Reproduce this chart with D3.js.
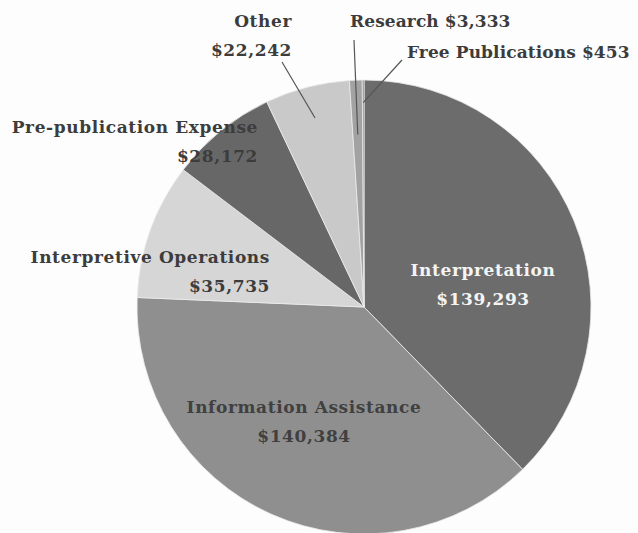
<!DOCTYPE html>
<html>
<head>
<meta charset="utf-8">
<script src="https://cdn.jsdelivr.net/npm/d3@7"></script>
<style>
  html, body { margin: 0; padding: 0; background: #fdfdfd; }
  svg { display: block; }
  text { font-family: "DejaVu Serif", serif; font-size: 17px; letter-spacing: 0.6px; }
  text.inline { letter-spacing: 0.1px; }
</style>
</head>
<body>
<svg id="chart" width="638" height="533"></svg>
<script>
// budget categories, clockwise from 12 o'clock
var categories = ["Interpretation", "Information Assistance", "Interpretive Operations",
                  "Pre-publication Expense", "Other", "Research", "Free Publications"];
var amounts = [139293, 140384, 35735, 28172, 22242, 3333, 453];
var shades = ["#6c6c6c", "#8f8f8f", "#d6d6d6", "#676767", "#c9c9c9", "#a2a2a2", "#7a7a7a"];

var fmt = d3.format("$,");

var svg = d3.select("#chart");
var cx = 364, cy = 307, R = 227;

var g = svg.append("g").attr("transform", "translate(" + cx + "," + cy + ")");

var pie = d3.pie().sort(null).value(function(d){ return d.value; });
var arc = d3.arc().innerRadius(0).outerRadius(R);

var data = categories.map(function(c, i){ return { name: c, value: amounts[i], fill: shades[i] }; });
var arcs = pie(data);

g.selectAll("path.slice")
  .data(arcs)
  .enter().append("path")
  .attr("class", "slice")
  .attr("d", arc)
  .attr("fill", function(d){ return d.data.fill; })
  .attr("stroke", "#ececec")
  .attr("stroke-width", 0.8);

// label layout (absolute page coords), two lines unless inline
var labels = {
  "Interpretation":          { x: 483, y: 276, anchor: "middle", color: "#f4f4f4" },
  "Information Assistance":  { x: 304, y: 413, anchor: "middle", color: "#404040" },
  "Interpretive Operations": { x: 270, y: 263, anchor: "end",    color: "#3c3c3c" },
  "Pre-publication Expense": { x: 258, y: 133, anchor: "end",    color: "#3c3c3c" },
  "Other":                   { x: 292, y: 27,  anchor: "end",    color: "#3c3c3c" },
  "Research":                { x: 350, y: 27,  anchor: "start",  color: "#3c3c3c", inline: true },
  "Free Publications":       { x: 407, y: 58,  anchor: "start",  color: "#3c3c3c", inline: true }
};

// leader lines: outer end in page coords, inner end at fraction of radius on slice mid-angle
var leaders = {
  "Other":             { x: 282, y: 62, r: 0.86 },
  "Research":          { x: 354, y: 40, r: 0.76 },
  "Free Publications": { x: 402, y: 60, r: 0.90 }
};

arcs.forEach(function(a){
  var name = a.data.name;
  var L = labels[name];
  var t = svg.append("text")
    .attr("x", L.x).attr("y", L.y)
    .attr("text-anchor", L.anchor)
    .attr("fill", L.color)
    .style("font-weight", 600);
  if (L.inline) {
    t.attr("class", "inline").text(name + " " + fmt(a.data.value));
  } else {
    t.append("tspan").attr("x", L.x).text(name);
    t.append("tspan").attr("x", L.x).attr("dy", 29).text(fmt(a.data.value));
  }

  var ld = leaders[name];
  if (ld) {
    var mid = (a.startAngle + a.endAngle) / 2;
    var ix = cx + Math.sin(mid) * R * ld.r, iy = cy - Math.cos(mid) * R * ld.r;
    svg.append("line")
      .attr("x1", ld.x).attr("y1", ld.y)
      .attr("x2", ix).attr("y2", iy)
      .attr("stroke", "#555").attr("stroke-width", 1.2);
  }
});
</script>
</body>
</html>
